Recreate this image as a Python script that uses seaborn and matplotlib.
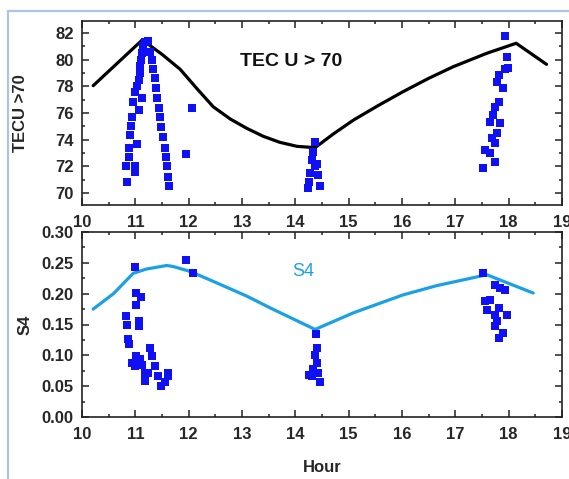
import matplotlib
matplotlib.use("Agg")
import matplotlib.pyplot as plt
import seaborn as sns
import numpy as np
from matplotlib.lines import Line2D
from matplotlib.ticker import MultipleLocator

# ---------------- data ----------------
tec_line_hour = [10.21, 11.13, 11.50, 11.84, 12.15, 12.46, 12.78, 13.09, 13.40, 13.71, 14.03, 14.37,
                 14.72, 15.09, 15.55, 16.02, 16.50, 16.96, 17.59, 18.14, 18.71]
tec_line_val = [78.05, 81.48, 80.40, 79.28, 77.85, 76.47, 75.55, 74.85, 74.25, 73.80, 73.50, 73.40,
                74.45, 75.47, 76.55, 77.60, 78.60, 79.47, 80.48, 81.23, 79.65]

tec_pts_hour = [10.84, 10.83, 11.00, 11.00, 10.89, 10.89, 11.03, 10.90, 10.92, 10.94, 11.06, 10.96,
                11.12, 11.00, 11.03, 11.06, 11.08, 11.09, 11.10, 11.12, 11.15, 11.18, 11.24, 11.28,
                11.31, 11.34, 11.37, 11.39, 11.41, 11.44, 11.46, 11.49, 11.52, 11.56, 11.57, 11.60,
                11.62, 11.64, 11.95, 12.06,
                14.36, 14.33, 14.31, 14.40, 14.37, 14.28, 14.43, 14.25, 14.23, 14.46,
                17.93, 17.96, 17.99, 17.93, 17.81, 17.78, 17.89, 17.81, 17.74, 17.71, 17.65, 17.84,
                17.78, 17.68, 17.74, 17.56, 17.65, 17.74, 17.52]
tec_pts_val = [70.80, 72.05, 72.05, 71.60, 72.70, 73.40, 73.70, 74.35, 75.00, 75.70, 76.20, 76.85,
               77.10, 77.60, 78.00, 78.50, 79.00, 79.50, 80.00, 80.50, 81.00, 81.35, 81.40, 80.60,
               79.98, 79.30, 78.60, 77.85, 77.10, 76.40, 75.70, 74.95, 74.20, 73.35, 72.70, 72.00,
               71.20, 70.50, 72.90, 76.40,
               73.85, 73.10, 72.50, 72.20, 72.00, 71.50, 71.35, 70.85, 70.35, 70.50,
               81.80, 80.20, 79.35, 79.30, 78.85, 78.35, 77.85, 76.85, 76.47, 75.85, 75.35, 75.23,
               74.47, 74.10, 73.73, 73.23, 72.97, 72.35, 71.85]

s4_line_hour = [10.21, 10.59, 10.96, 11.21, 11.59, 11.71, 12.03, 12.46, 13.09, 13.55, 14.37,
                15.09, 16.02, 16.65, 17.59, 18.46]
s4_line_val = [0.175, 0.200, 0.233, 0.240, 0.2457, 0.244, 0.236, 0.220, 0.196, 0.176, 0.142,
               0.169, 0.198, 0.213, 0.2307, 0.201]

s4_pts_hour = [10.99, 11.01, 11.11, 11.02, 10.83, 10.84, 11.06, 11.06, 10.86, 10.89, 10.93, 11.02,
               11.09, 11.00, 11.28, 11.31, 11.18, 11.18, 11.37, 11.43, 11.49, 11.56, 11.62, 11.62,
               11.24, 11.13, 11.95, 12.08,
               14.39, 14.41, 14.37, 14.40, 14.34, 14.25, 14.43, 14.46, 14.31,
               17.52, 17.74, 17.93, 17.84, 17.56, 17.65, 17.59, 17.81, 17.96, 17.74, 17.78, 17.90,
               17.81, 17.74]
s4_pts_val = [0.244, 0.201, 0.195, 0.181, 0.1645, 0.150, 0.155, 0.147, 0.126, 0.118, 0.088, 0.099,
              0.0935, 0.083, 0.112, 0.099, 0.072, 0.0586, 0.083, 0.0666, 0.0505, 0.056, 0.0666, 0.072,
              0.072, 0.085, 0.255, 0.234,
              0.134, 0.112, 0.100, 0.088, 0.0774, 0.0677, 0.072, 0.057, 0.066,
              0.2334, 0.2145, 0.2065, 0.209, 0.1876, 0.189, 0.174, 0.177, 0.166, 0.166, 0.155, 0.1366,
              0.1285, 0.147]

x_ticks = [10, 11, 12, 13, 14, 15, 16, 17, 18, 19]
tec_yticks = [70, 72, 74, 76, 78, 80, 82]
s4_yticks = [0.00, 0.05, 0.10, 0.15, 0.20, 0.25, 0.30]

# ---------------- style ----------------
sns.set_style("white")
plt.rcParams['font.family'] = ['Liberation Sans', 'DejaVu Sans']

W, H = 569, 479
fig = plt.figure(figsize=(W / 100, H / 100), dpi=100)

def fx(px):
    return px / W

def fy(py):
    return 1 - py / H

ax1 = fig.add_axes([fx(82), fy(205), fx(562) - fx(82), fy(21) - fy(205)])
ax2 = fig.add_axes([fx(82), fy(417), fx(562) - fx(82), fy(232) - fy(417)])

blue = '#1010f5'
cyan = '#1ba1e2'

sns.lineplot(x=tec_line_hour, y=tec_line_val, sort=False, color='black', linewidth=2.3, ax=ax1)
sns.scatterplot(x=tec_pts_hour, y=tec_pts_val, marker='s', s=34, color=blue, linewidth=0, ax=ax1, zorder=3)

sns.lineplot(x=s4_line_hour, y=s4_line_val, sort=False, color=cyan, linewidth=2.3, ax=ax2)
sns.scatterplot(x=s4_pts_hour, y=s4_pts_val, marker='s', s=34, color=blue, linewidth=0, ax=ax2, zorder=3)

for ax in (ax1, ax2):
    ax.set_xlim(10, 19)
    ax.set_xticks(x_ticks)
    ax.set_xticklabels([str(t) for t in x_ticks])
    ax.xaxis.set_minor_locator(MultipleLocator(0.5))
    ax.tick_params(which='both', direction='in', top=True, right=True, bottom=True, left=True,
                   color='#222222', width=1.1)
    ax.tick_params(which='major', length=5, labelsize=12)
    ax.tick_params(axis='x', which='major', pad=7)
    ax.tick_params(axis='y', which='major', pad=6)
    ax.tick_params(which='minor', length=2.5)
    for sp in ax.spines.values():
        sp.set_color('#222222')
        sp.set_linewidth(1.2)
    for lab in ax.get_xticklabels() + ax.get_yticklabels():
        lab.set_fontweight('bold')

ax1.set_ylim(69.1, 82.9)
ax1.set_yticks(tec_yticks)
ax1.set_yticklabels([str(t) for t in tec_yticks], fontweight='bold')
ax1.yaxis.set_minor_locator(MultipleLocator(1))
ax1.set_ylabel('TECU >70', fontsize=12, fontweight='bold')
ax1.yaxis.set_label_coords((28 - 82) / 480, 0.5)
ax1.text(13.92, 79.85, 'TEC U > 70', fontsize=14, fontweight='bold', color='#111111',
         ha='center', va='center')

ax2.set_ylim(0, 0.30)
ax2.set_yticks(s4_yticks)
ax2.set_yticklabels([f'{t:.2f}' for t in s4_yticks], fontweight='bold')
ax2.yaxis.set_minor_locator(MultipleLocator(0.025))
ax2.set_ylabel('S4', fontsize=12, fontweight='bold')
ax2.yaxis.set_label_coords((33 - 82) / 480, 0.5)
ax2.set_xlabel('Hour', fontsize=12, fontweight='bold', labelpad=13)
ax2.text(14.14, 0.236, 'S4', fontsize=13, color=cyan, ha='center', va='center')

# light blue frame lines
fig.add_artist(Line2D([fx(8), fx(8)], [fy(11), 0], color='#aac6e4', linewidth=1.6))
fig.add_artist(Line2D([fx(8), 1], [fy(11), fy(11)], color='#aac6e4', linewidth=1.6))

fig.savefig('out.png', dpi=100)
